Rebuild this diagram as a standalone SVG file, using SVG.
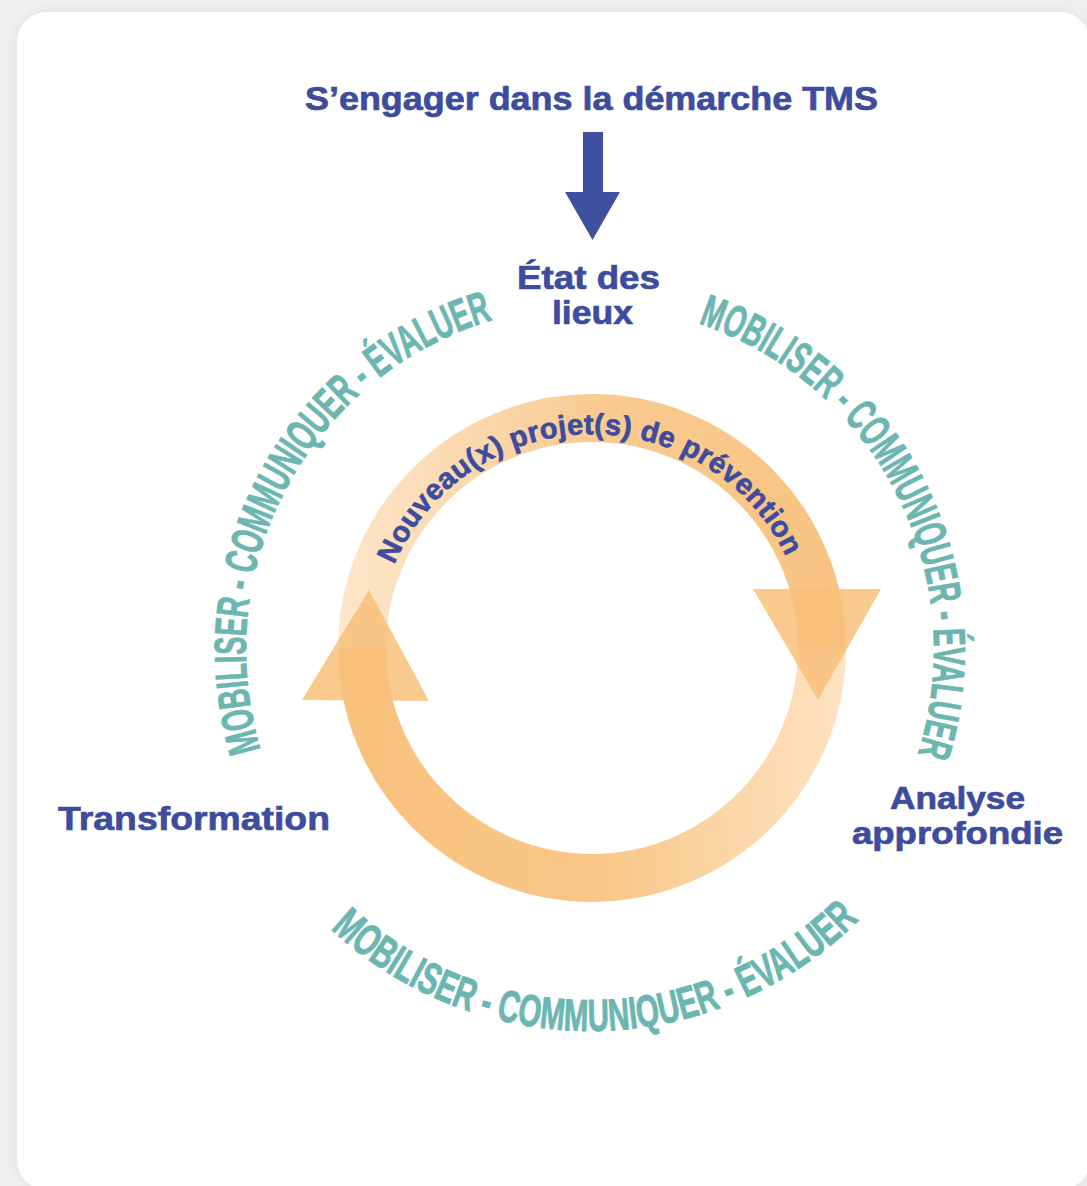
<svg xmlns="http://www.w3.org/2000/svg" width="1087" height="1186" viewBox="0 0 1087 1186">
  <defs>
    <style>
      .navy { fill: #3d4c9d; stroke: #3d4c9d; stroke-width: 0.7px; font-family: "Liberation Sans", Arial, sans-serif; font-weight: bold; }
      .teal { fill: #6cb6b1; stroke: #6cb6b1; stroke-width: 0.9px; font-family: "Liberation Sans", Arial, sans-serif; font-weight: bold; font-size: 45px; }
      .head { fill: #f8c07a; fill-opacity: 0.85; }
    </style>
    <filter id="shadow" x="-5%" y="-5%" width="110%" height="110%">
      <feDropShadow dx="0" dy="0" stdDeviation="6" flood-color="#000" flood-opacity="0.07"/>
    </filter>
    <linearGradient id="gTop" gradientUnits="userSpaceOnUse" x1="340" y1="0" x2="845" y2="0">
      <stop offset="0" stop-color="#fde6cb"/>
      <stop offset="0.5" stop-color="#f9cb92"/>
      <stop offset="1" stop-color="#f8c381"/>
    </linearGradient>
    <linearGradient id="gBot" gradientUnits="userSpaceOnUse" x1="340" y1="0" x2="845" y2="0">
      <stop offset="0" stop-color="#f8c27c"/>
      <stop offset="0.5" stop-color="#f9c686"/>
      <stop offset="1" stop-color="#fde3c2"/>
    </linearGradient>
    <path id="pLeft" d="M 297.0 830.3 A 344 344 0 0 1 580.4 306.1"/>
    <path id="pRight" d="M 608.0 306.5 A 344 344 0 0 1 878.5 837.3"/>
    <path id="pBottom" d="M 263.4 846.2 A 381 381 0 0 0 923.2 834.7"/>
    <path id="pRing" d="M 377.05 652.5 A 215 215 0 0 1 806.95 643.5"/>
  </defs>

  <g id="background">
    <rect x="0" y="0" width="1087" height="1186" fill="#efefef"/>
    <rect x="17" y="12" width="1073" height="1178" rx="30" ry="30" fill="#ffffff" filter="url(#shadow)"/>
  </g>

  <g id="connectors">
    <g id="entry-arrow" fill="#3f50a0">
      <rect x="583" y="132" width="20" height="62"/>
      <polygon points="565,192 620,192 592.5,240"/>
    </g>
    <g id="cycle">
      <path d="M 362 648 A 230 230 0 0 1 822 648" fill="none" stroke="url(#gTop)" stroke-width="48"/>
      <path d="M 822 648 A 230 230 0 0 1 362 648" fill="none" stroke="url(#gBot)" stroke-width="48"/>
      <polygon class="head" points="753,589 881,589 818,700"/>
      <polygon class="head" points="369,590 429,701 302,700"/>
    </g>
  </g>

  <g id="node-title">
    <text class="navy" x="591.5" y="110" font-size="34" text-anchor="middle" textLength="573" lengthAdjust="spacingAndGlyphs">S’engager dans la démarche TMS</text>
  </g>

  <g id="node-etat-des-lieux">
    <text class="navy" x="588.5" y="289" font-size="34" text-anchor="middle" textLength="143" lengthAdjust="spacingAndGlyphs">État des</text>
    <text class="navy" x="592.5" y="324" font-size="34" text-anchor="middle" textLength="81" lengthAdjust="spacingAndGlyphs">lieux</text>
  </g>

  <g id="node-analyse">
    <text class="navy" x="957.5" y="809" font-size="31" text-anchor="middle" textLength="135" lengthAdjust="spacingAndGlyphs">Analyse</text>
    <text class="navy" x="957.5" y="844" font-size="31" text-anchor="middle" textLength="211" lengthAdjust="spacingAndGlyphs">approfondie</text>
  </g>

  <g id="node-transformation">
    <text class="navy" x="194" y="830" font-size="34" text-anchor="middle" textLength="272" lengthAdjust="spacingAndGlyphs">Transformation</text>
  </g>

  <g id="node-projets">
    <text class="navy" font-size="29"><textPath href="#pRing" startOffset="50%" text-anchor="middle" textLength="493" lengthAdjust="spacing">Nouveau(x) projet(s) de prévention</textPath></text>
  </g>

  <g id="cycle-labels">
    <text class="teal"><textPath href="#pLeft" startOffset="50%" text-anchor="middle" textLength="543" lengthAdjust="spacingAndGlyphs">MOBILISER - COMMUNIQUER - ÉVALUER</textPath></text>
    <text class="teal"><textPath href="#pRight" startOffset="50%" text-anchor="middle" textLength="536" lengthAdjust="spacingAndGlyphs">MOBILISER - COMMUNIQUER - ÉVALUER</textPath></text>
    <text class="teal"><textPath href="#pBottom" startOffset="50%" text-anchor="middle" textLength="584" lengthAdjust="spacingAndGlyphs">MOBILISER - COMMUNIQUER - ÉVALUER</textPath></text>
  </g>
</svg>
